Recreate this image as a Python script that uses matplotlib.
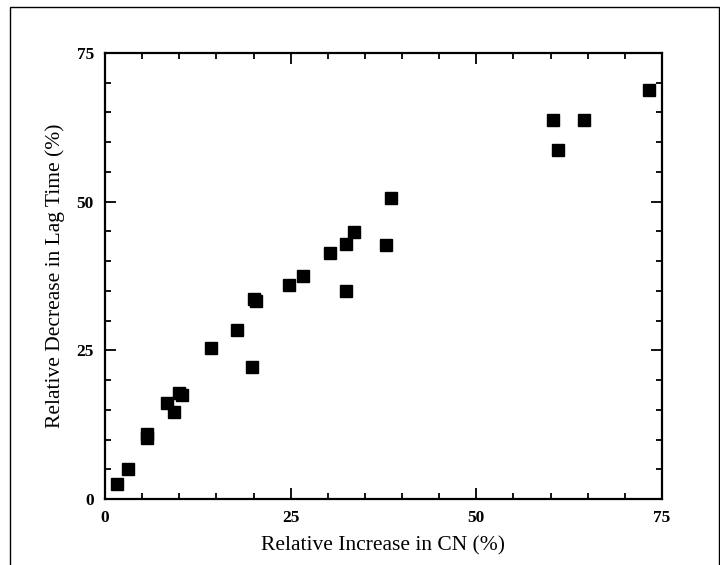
import matplotlib.pyplot as plt
from matplotlib.patches import Rectangle
from matplotlib.ticker import MultipleLocator

# relative increase in CN (%) vs relative decrease in lag time (%)
cn_increase = [1.6, 3.1, 5.6, 5.6, 8.4, 9.3, 10.0, 10.4, 14.3, 17.8, 19.8, 20.0, 20.4,
               24.8, 26.7, 30.3, 32.4, 32.5, 33.5, 37.8, 38.5, 60.3, 61.0, 64.5, 73.2]
lag_decrease = [2.5, 5.0, 10.2, 10.9, 16.1, 14.6, 17.9, 17.5, 25.4, 28.4, 22.2, 33.7, 33.3,
                36.0, 37.5, 41.4, 35.0, 42.9, 44.9, 42.7, 50.6, 63.7, 58.7, 63.7, 68.8]
ticks = [0, 25, 50, 75]

plt.rcParams['font.family'] = ['Liberation Serif', 'DejaVu Serif']

fig = plt.figure(figsize=(7.2, 5.65), dpi=100)
ax = fig.add_axes([0.1458, 0.1168, 0.7736, 0.7894])

ax.plot(cn_increase, lag_decrease, 's', color='black', markersize=8, linestyle='none')

ax.set_xlim(0, 75)
ax.set_ylim(0, 75)
ax.set_xticks(ticks)
ax.set_yticks(ticks)
ax.xaxis.set_minor_locator(MultipleLocator(5))
ax.yaxis.set_minor_locator(MultipleLocator(5))
ax.tick_params(which='both', direction='in', top=True, right=True, width=1.3)
ax.tick_params(which='major', length=8, labelsize=12.5, pad=8)
ax.tick_params(which='minor', length=4)
for lab in ax.get_xticklabels() + ax.get_yticklabels():
    lab.set_fontweight('bold')
for sp in ax.spines.values():
    sp.set_linewidth(1.6)

ax.set_xlabel('Relative Increase in CN (%)', fontsize=15.5, labelpad=7)
ax.set_ylabel('Relative Decrease in Lag Time (%)', fontsize=15.5, labelpad=8)

# thin border around the whole figure
fig.patches.append(Rectangle((10 / 720, -0.01), 709 / 720, 1 - 7 / 565 + 0.01,
                             transform=fig.transFigure, fill=False,
                             edgecolor='black', linewidth=1.0))

fig.savefig('out.png', dpi=100)
